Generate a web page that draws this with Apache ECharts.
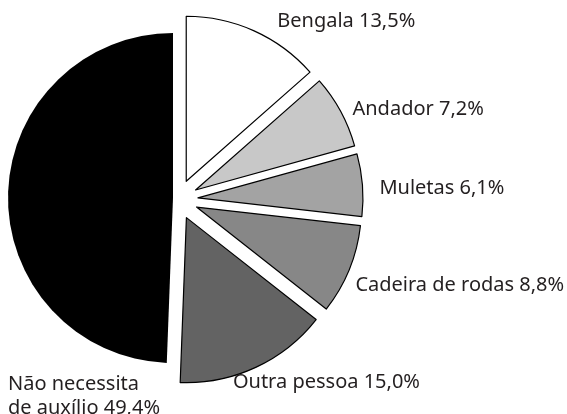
<!DOCTYPE html>
<html>
<head>
<meta charset="utf-8">
<script src="https://cdn.jsdelivr.net/npm/echarts@6/dist/echarts.min.js"></script>
<style>
html, body { margin: 0; background: #fff; }
#chart { width: 567px; height: 414px; }
</style>
</head>
<body>
<div id="chart"></div>
<script>
// dados
var categories = ['Bengala', 'Andador', 'Muletas', 'Cadeira de rodas', 'Outra pessoa', 'Não necessita de auxílio'];
var values = [13.5, 7.2, 6.1, 8.8, 15.0, 49.4];
var colors = ['#ffffff', '#c8c8c8', '#a3a3a3', '#878787', '#636363', '#000000'];
var blackIndex = 5;

// pequenos ajustes dos rótulos (dx, dy) por fatia
var labelNudge = [[4, 0], [-12, 3], [-8, 4], [-18, 12], [-42, 6], [0, 0]];

function fmt(p) {
  var name = p.name.replace(' de auxílio', '\nde auxílio');
  return name + ' ' + p.value.toFixed(1).replace('.', ',') + '%';
}

var labelStyle = {
  fontFamily: 'Noto Sans',
  fontSize: 20,
  color: '#231f20',
  lineHeight: 24
};

// serie só com a fatia preta (quase sem deslocamento)
var blackData = categories.map(function (c, i) {
  var visible = i === blackIndex;
  return {
    name: c,
    value: values[i],
    itemStyle: { color: visible ? colors[i] : 'rgba(0,0,0,0)', borderWidth: 0 },
    label: { show: visible }
  };
});

// serie com as outras fatias destacadas
var otherData = categories.map(function (c, i) {
  var visible = i !== blackIndex;
  return {
    name: c,
    value: values[i],
    selected: visible,
    itemStyle: visible
      ? { color: colors[i], borderColor: '#000', borderWidth: 1.2 }
      : { color: 'rgba(0,0,0,0)', borderWidth: 0 },
    label: { show: visible }
  };
});

var chart = echarts.init(document.getElementById('chart'));
var option = {
  animation: false,
  series: [
    {
      type: 'pie',
      silent: true,
      center: [173, 198],
      radius: 165,
      startAngle: 90,
      avoidLabelOverlap: false,
      label: Object.assign({ position: 'outside', formatter: fmt, align: 'left' }, labelStyle),
      labelLine: { show: false },
      labelLayout: { x: 8, y: 396, align: 'left', verticalAlign: 'middle' },
      data: blackData
    },
    {
      type: 'pie',
      silent: true,
      center: [178, 199.5],
      radius: 165,
      startAngle: 90,
      selectedMode: 'multiple',
      selectedOffset: 20,
      avoidLabelOverlap: false,
      label: Object.assign({ position: 'outside', formatter: fmt }, labelStyle),
      labelLine: { show: false, length: 10, length2: 10 },
      labelLayout: function (params) {
        var n = labelNudge[params.dataIndex];
        return { dx: n[0], dy: n[1] };
      },
      data: otherData
    }
  ]
};
chart.setOption(option);
</script>
</body>
</html>
